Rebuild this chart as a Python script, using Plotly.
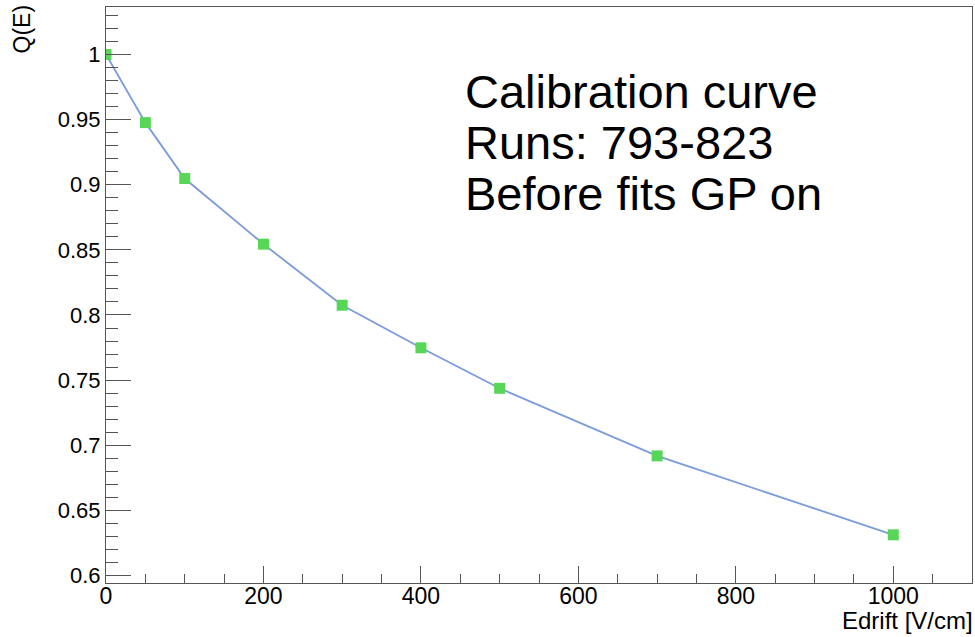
import plotly.graph_objects as go

edrift = [0, 50, 100, 200, 300, 400, 500, 700, 1000]
qe = [1.0, 0.9477, 0.9048, 0.8544, 0.8075, 0.7748, 0.7437, 0.6918, 0.6312]

y_tickvals = [0.6, 0.65, 0.7, 0.75, 0.8, 0.85, 0.9, 0.95, 1.0]
y_ticktext = ["0.6", "0.65", "0.7", "0.75", "0.8", "0.85", "0.9", "0.95", "1"]
x_tickvals = [0, 200, 400, 600, 800, 1000]

text_lines = ["Calibration curve", "Runs: 793-823", "Before fits GP on"]

FONT = "Liberation Sans, Arial, sans-serif"
AX = "#555555"

fig = go.Figure()
fig.add_trace(go.Scatter(
    x=edrift, y=qe, mode="lines+markers",
    line=dict(color="rgb(122,155,218)", width=1.8),
    marker=dict(symbol="square", size=11, color="rgb(88,214,88)", line=dict(width=0)),
    showlegend=False,
))

fig.update_layout(
    width=975, height=637,
    margin=dict(l=106, r=3, t=7, b=54),
    paper_bgcolor="white", plot_bgcolor="white",
    font=dict(family=FONT, size=22, color="black"),
    xaxis=dict(
        range=[0, 1100], showgrid=False, zeroline=False,
        showline=True, linecolor=AX, linewidth=1, mirror=True,
        ticks="inside", ticklen=17, tickcolor=AX, tickwidth=1,
        tickvals=x_tickvals, ticklabelstandoff=-8,
        tickfont=dict(size=23),
        minor=dict(ticks="inside", ticklen=9, dtick=50, tick0=0, tickcolor=AX, showgrid=False),
    ),
    yaxis=dict(
        range=[0.5942, 1.0365], showgrid=False, zeroline=False,
        showline=True, linecolor=AX, linewidth=1, mirror=True,
        ticks="inside", ticklen=25, tickcolor=AX, tickwidth=1,
        tickvals=y_tickvals, ticktext=y_ticktext, ticklabelstandoff=0,
        tickfont=dict(size=22),
        minor=dict(ticks="inside", ticklen=12, dtick=0.01, tick0=0.6, tickcolor=AX, showgrid=False),
    ),
)

# axis titles (ROOT style: at the ends of the axes)
fig.add_annotation(text="Edrift [V/cm]", xref="paper", yref="paper", x=1.0, y=0,
                   xanchor="right", yanchor="top", yshift=-23, xshift=2, borderpad=0,
                   showarrow=False, font=dict(size=24, family=FONT))
fig.add_annotation(text="Q(E)", xref="paper", yref="paper", x=0, y=1.0,
                   xanchor="right", yanchor="top", xshift=-70, yshift=4, textangle=-90,
                   showarrow=False, font=dict(size=23, family=FONT))

# text block
tops_px = [91.5, 142, 193.5]
plot_h = 637 - 7 - 54
for line, py in zip(text_lines, tops_px):
    fig.add_annotation(text=line, xref="paper", yref="paper",
                       x=(463 - 106) / 866, y=1 - (py - 7) / plot_h,
                       xanchor="left", yanchor="middle", showarrow=False,
                       font=dict(size=47, family=FONT, color="black"))

fig.write_html("out.html", config={"displayModeBar": False},
               post_script="document.body.style.margin='0';document.body.style.padding='0';")
